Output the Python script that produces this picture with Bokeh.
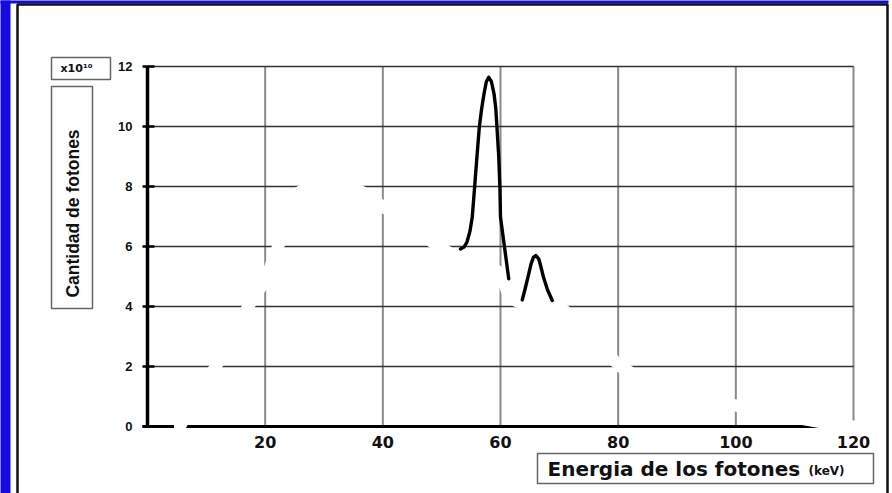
import math
from bokeh.plotting import figure
from bokeh.models import Range1d
from bokeh.core.properties import value
from bokeh.embed import file_html
from bokeh.resources import INLINE

# ---------------- data ----------------
# continuous (bremsstrahlung) spectrum, drawn in white in the original
cont_x = [5.5, 8.0, 11.6, 14.5, 17.1, 20.0, 22.2, 25.7, 28.0, 31.0, 34.0, 36.6,
          40.0, 44.0, 48.0, 50.0, 52.0, 55.0, 58.0, 60.0, 61.5, 63.0, 66.0,
          69.0, 71.0, 75.0, 80.3, 85.0, 90.0, 95.0, 100.0, 105.0, 110.0,
          115.0, 120.0]
cont_y = [0.0, 0.85, 2.0, 3.0, 4.0, 4.87, 6.0, 7.8, 8.05, 8.15, 8.05, 7.8,
          7.33, 6.8, 6.2, 5.95, 5.7, 5.55, 5.4, 5.1, 4.3, 4.15, 4.1,
          4.05, 3.85, 3.1, 2.0, 1.5, 1.15, 0.9, 0.7, 0.5, 0.3,
          0.12, 0.0]

# K-alpha characteristic peak
ka_x = [53.2, 53.8, 54.3, 54.8, 55.2, 55.6, 56.0, 56.4, 56.8, 57.2, 57.6, 58.0,
        58.45, 58.9, 59.2, 59.4, 59.7, 59.9, 60.0, 60.7, 61.4]
ka_y = [5.92, 5.98, 6.15, 6.5, 6.98, 7.98, 9.0, 9.98, 10.6, 11.09, 11.5, 11.64,
        11.5, 11.09, 10.6, 9.98, 9.0, 7.98, 6.98, 5.95, 4.92]

# K-beta characteristic peak
kb_x = [63.7, 64.2, 64.8, 65.2, 65.6, 66.0, 66.5, 66.9, 67.3, 68.0, 68.8]
kb_y = [4.22, 4.6, 5.09, 5.42, 5.64, 5.70, 5.59, 5.3, 4.98, 4.55, 4.20]

x_ticks = [20, 40, 60, 80, 100, 120]
y_ticks = [0, 2, 4, 6, 8, 10, 12]
x_tick_labels = [str(t) for t in x_ticks]
y_tick_labels = [str(t) for t in y_ticks]

y_title = "Cantidad de fotones"
x_title = "Energia de los fotones"
x_unit = "(keV)"
y_mult = "x10\u00b9\u2070"

# ---------------- layout (pixel geometry of the page) ----------------
W, H = 892, 493
X0_PX, X120_PX = 147.0, 853.0      # pixel of x=0 and x=120
Y0_PX, Y12_PX = 426.0, 66.0        # pixel of y=0 and y=12
SX = (X120_PX - X0_PX) / 120.0
SY = (Y0_PX - Y12_PX) / 12.0


def dx(px):
    return (px - X0_PX) / SX


def dy(py):
    return (Y0_PX - py) / SY


p = figure(width=W, height=H,
           x_range=Range1d(dx(0), dx(W)), y_range=Range1d(dy(H), dy(0)),
           x_axis_type=None, y_axis_type=None,
           output_backend="svg", toolbar_location=None, min_border=0)
p.outline_line_color = None
p.background_fill_color = "white"
p.border_fill_color = "white"
p.grid.visible = False

BLUE = "#140AE6"
INK = "#111111"

# blue page border
p.quad(left=[dx(-4), dx(-4)], right=[dx(10), dx(888)],
       top=[dy(-4), dy(-4)], bottom=[dy(H + 4), dy(3)],
       fill_color=BLUE, line_color=None)
# black panel border
p.quad(left=[dx(17)], right=[dx(887)], top=[dy(4)], bottom=[dy(H + 20)],
       fill_color=None, line_color=INK, line_width=2.5)

# grid lines
xmax, ymax = x_ticks[-1], y_ticks[-1]
p.segment(x0=x_ticks, y0=[0] * len(x_ticks), x1=x_ticks, y1=[ymax] * len(x_ticks),
          line_color="#8a8a8a", line_width=2)
p.segment(x0=[0] * (len(y_ticks) - 1), y0=y_ticks[1:],
          x1=[xmax] * (len(y_ticks) - 1), y1=y_ticks[1:],
          line_color="#333333", line_width=1.4)

# axis lines
p.line(x=[dx(142), xmax], y=[0, 0], line_color="black", line_width=3)
p.line(x=[0, 0], y=[y_ticks[0], ymax], line_color="black", line_width=3.5)
# y tick marks
p.segment(x0=[dx(142)] * len(y_ticks), y0=y_ticks,
          x1=[dx(154)] * len(y_ticks), y1=y_ticks,
          line_color="black", line_width=2.5)

# continuum (white) and characteristic peaks (black)
p.line(x=cont_x, y=cont_y, line_color="white", line_width=12,
       line_join="round", line_cap="round")
p.line(x=ka_x, y=ka_y, line_color="black", line_width=3.4,
       line_join="round", line_cap="round")
p.line(x=kb_x, y=kb_y, line_color="black", line_width=3.4,
       line_join="round", line_cap="round")

# tick labels
p.text(x=[dx(132)] * len(y_ticks), y=y_ticks, text=y_tick_labels,
       text_align="right", text_baseline="middle",
       text_font=value("Liberation Sans"),
       text_font_style="bold", text_font_size="13px", text_color=INK)
p.text(x=x_ticks, y=[dy(441)] * len(x_ticks), text=x_tick_labels,
       text_align="center", text_baseline="middle",
       text_font=value("DejaVu Sans"), text_font_style="bold",
       text_font_size="16px", text_color=INK)

# title boxes
p.quad(left=[dx(51), dx(51), dx(537)], right=[dx(110), dx(92), dx(873)],
       top=[dy(57), dy(86), dy(453)], bottom=[dy(79), dy(308), dy(483)],
       fill_color=None, line_color="#666666", line_width=1.5)

p.text(x=[dx(60)], y=[dy(68)], text=[y_mult], text_align="left",
       text_baseline="middle", text_font=value("DejaVu Sans"),
       text_font_style="bold", text_font_size="11px", text_color=INK)
p.text(x=[dx(72)], y=[dy(213)], text=[y_title], angle=math.pi / 2,
       text_align="center", text_baseline="middle",
       text_font=value("Liberation Sans"),
       text_font_style="bold", text_font_size="17.5px", text_color=INK)
p.text(x=[dx(547)], y=[dy(468)], text=[x_title], text_align="left",
       text_baseline="middle", text_font=value("DejaVu Sans"),
       text_font_style="bold", text_font_size="20px", text_color=INK)
p.text(x=[dx(808)], y=[dy(470)], text=[x_unit], text_align="left",
       text_baseline="middle", text_font=value("DejaVu Sans"),
       text_font_style="bold", text_font_size="12px", text_color=INK)

open("out.html", "w").write(file_html(p, INLINE))
